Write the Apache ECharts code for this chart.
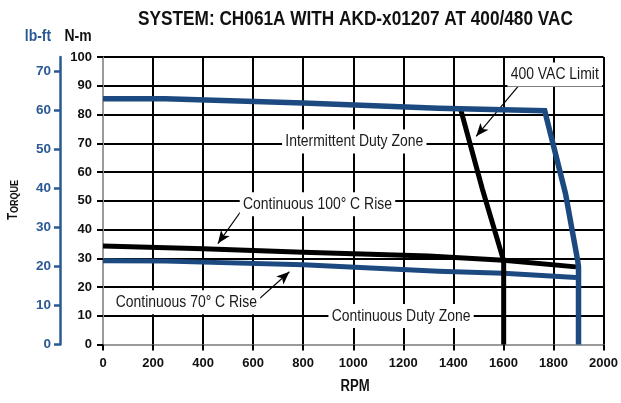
<!DOCTYPE html>
<html>
<head>
<meta charset="utf-8">
<script src="https://cdn.jsdelivr.net/npm/echarts@6/dist/echarts.min.js"></script>
<style>
  html, body { margin: 0; padding: 0; background: #fff; }
  #chart { width: 621px; height: 403px; }
</style>
</head>
<body>
<div id="chart"></div>
<script>
// Torque/speed curves for CH061A with AKD-x01207 (speed in RPM, torque in N-m)
const intermittentRpm = [0, 250, 800, 1340, 1765, 1848, 1897, 1900, 1900];
const intermittentNm  = [85.5, 85.5, 84.0, 82.2, 81.3, 52.5, 29.0, 27.0, 0];

const limit400Rpm = [1430, 1516, 1598, 1601, 1601];
const limit400Nm  = [81.5, 54.0, 30.0, 28.5, 0];

const cont100Rpm = [0, 400, 800, 1300, 1600, 1890];
const cont100Nm  = [34.3, 33.3, 32.1, 30.8, 29.3, 27.0];

const cont70Rpm = [0, 250, 800, 1340, 1600, 1890];
const cont70Nm  = [29.1, 29.0, 27.7, 25.5, 24.8, 23.3];

const rpmTicks  = [0, 200, 400, 600, 800, 1000, 1200, 1400, 1600, 1800, 2000];
const nmTicks   = [0, 10, 20, 30, 40, 50, 60, 70, 80, 90, 100];
const lbftTicks = [0, 10, 20, 30, 40, 50, 60, 70];

const NM_PER_LBFT = 1.35582;

const SANS = "'Liberation Sans', Arial, sans-serif";
const NARROW_X = 0.82;            // horizontal squeeze giving a condensed face
const CURVE_BLUE = '#1c4a80';
const AXIS_BLUE = '#2a5a94';
const INK = '#111';

const zip = (xs, ys) => xs.map((x, i) => [x, ys[i]]);

// Callout texts (placed in RPM / N-m space) and their leader arrows
const notes = [
  { text: '400 VAC Limit',          at: [1805, 93.9] },
  { text: 'Intermittent Duty Zone', at: [1004, 70.6] },
  { text: 'Continuous 100° C Rise', at: [857, 48.8] },
  { text: 'Continuous 70° C Rise',  at: [333, 14.7] },
  { text: 'Continuous Duty Zone',   at: [1191, 9.9] }
];
const arrows = [
  [[1672, 91.2], [1491, 72.4]],
  [[559, 47.3], [459, 35.1]],
  [[612, 14.9], [745, 25.3]]
];

// one grid line per tick: the origin-side border is grey, the rest black
const gridColors = (n) => Array.from({ length: n }, (_, i) => i === 0 ? '#9a9a9a' : '#000');

const curve = (name, xs, ys, color, width, z) => ({
  name, type: 'line', data: zip(xs, ys), showSymbol: false, z,
  lineStyle: { color, width, join: 'miter', cap: 'butt' },
  animation: false, silent: true
});

const axisFont = { color: INK, fontFamily: SANS, fontWeight: 'bold', fontSize: 13 };

const chart = echarts.init(document.getElementById('chart'), null, { renderer: 'canvas' });

chart.setOption({
  animation: false,
  backgroundColor: '#fff',
  grid: { left: 103, right: 16, top: 57, bottom: 58.5, containLabel: false },
  xAxis: {
    type: 'value', min: 0, max: 2000, interval: 200,
    axisLine: { show: true, onZero: false, lineStyle: { color: '#9a9a9a', width: 1.5 } },
    axisTick: { show: true, length: 6, lineStyle: { color: '#000', width: 2 } },
    axisLabel: Object.assign({ margin: 12, formatter: (v) => String(v) }, axisFont),
    splitLine: { show: true, lineStyle: { color: gridColors(rpmTicks.length), width: 2 } }
  },
  yAxis: [
    {
      type: 'value', min: 0, max: 100, interval: 10, position: 'left',
      axisLine: { show: true, onZero: false, lineStyle: { color: '#9a9a9a', width: 1.5 } },
      axisTick: { show: true, length: 6, lineStyle: { color: '#000', width: 2 } },
      axisLabel: Object.assign({ margin: 11, formatter: (v) => nmTicks.includes(v) ? String(v) : '' }, axisFont),
      splitLine: { show: true, lineStyle: { color: gridColors(nmTicks.length), width: 2 } }
    },
    {
      type: 'value', min: 0, max: 100 / NM_PER_LBFT, position: 'left', offset: 43,
      axisLine: { show: true, onZero: false, lineStyle: { color: AXIS_BLUE, width: 2.5 } },
      axisTick: { show: true, length: 6, customValues: lbftTicks, lineStyle: { color: AXIS_BLUE, width: 2.5 } },
      axisLabel: {
        margin: 9, color: AXIS_BLUE, fontFamily: SANS, fontWeight: 'bold', fontSize: 13.5,
        customValues: lbftTicks
      },
      splitLine: { show: false }
    }
  ],
  series: [
    curve('Continuous 70° C Rise', cont70Rpm, cont70Nm, CURVE_BLUE, 5, 2),
    curve('Continuous 100° C Rise', cont100Rpm, cont100Nm, '#000', 5, 3),
    curve('400 VAC Limit', limit400Rpm, limit400Nm, '#000', 5, 4),
    curve('Intermittent', intermittentRpm, intermittentNm, CURVE_BLUE, 5.5, 5),
    {
      name: 'callouts', type: 'scatter', z: 6, silent: true, animation: false,
      symbolSize: 0, itemStyle: { opacity: 0 },
      data: notes.map(n => n.at),
      markLine: {
        silent: true, animation: false,
        symbol: ['none', 'arrow'], symbolSize: [8, 13],
        lineStyle: { color: '#000', width: 1.2, type: 'solid', opacity: 1 },
        itemStyle: { color: '#000', opacity: 1 },
        label: { show: false },
        data: arrows.map(([a, b]) => [{ coord: a }, { coord: b }])
      }
    }
  ]
});

// Headings and callouts, condensed horizontally
const squeezed = (x, y, text, font, extra) => Object.assign({
  type: 'text', x, y, scaleX: NARROW_X, z: 100,
  style: Object.assign({ text, align: 'center', verticalAlign: 'middle', fontFamily: SANS }, font)
}, extra || {});

const graphics = [
  squeezed(355.5, 19, 'SYSTEM: CH061A WITH AKD-x01207 AT 400/480 VAC',
    { fontWeight: 'bold', fontSize: 21, fill: INK }),
  squeezed(38, 36, 'lb-ft', { fontWeight: 'bold', fontSize: 17, fill: AXIS_BLUE }),
  squeezed(78, 36, 'N-m', { fontWeight: 'bold', fontSize: 17, fill: INK }),
  squeezed(355, 387, 'RPM', { fontWeight: 'bold', fontSize: 16, fill: INK }),
  squeezed(13, 200, '{big|T}{small|ORQUE}', {
    rich: {
      big: { fontFamily: SANS, fontWeight: 'bold', fontSize: 14, fill: INK, verticalAlign: 'bottom' },
      small: { fontFamily: SANS, fontWeight: 'bold', fontSize: 11, fill: INK, verticalAlign: 'bottom' }
    }
  }, { rotation: Math.PI / 2 })
];

notes.forEach(n => {
  const [px, py] = chart.convertToPixel({ xAxisIndex: 0, yAxisIndex: 0 }, n.at);
  graphics.push(squeezed(px, py, n.text, {
    fontSize: 17, fill: '#1a1a1a', backgroundColor: '#fff', padding: [4, 4, 3, 4]
  }));
});

chart.setOption({ graphic: graphics });
</script>
</body>
</html>
